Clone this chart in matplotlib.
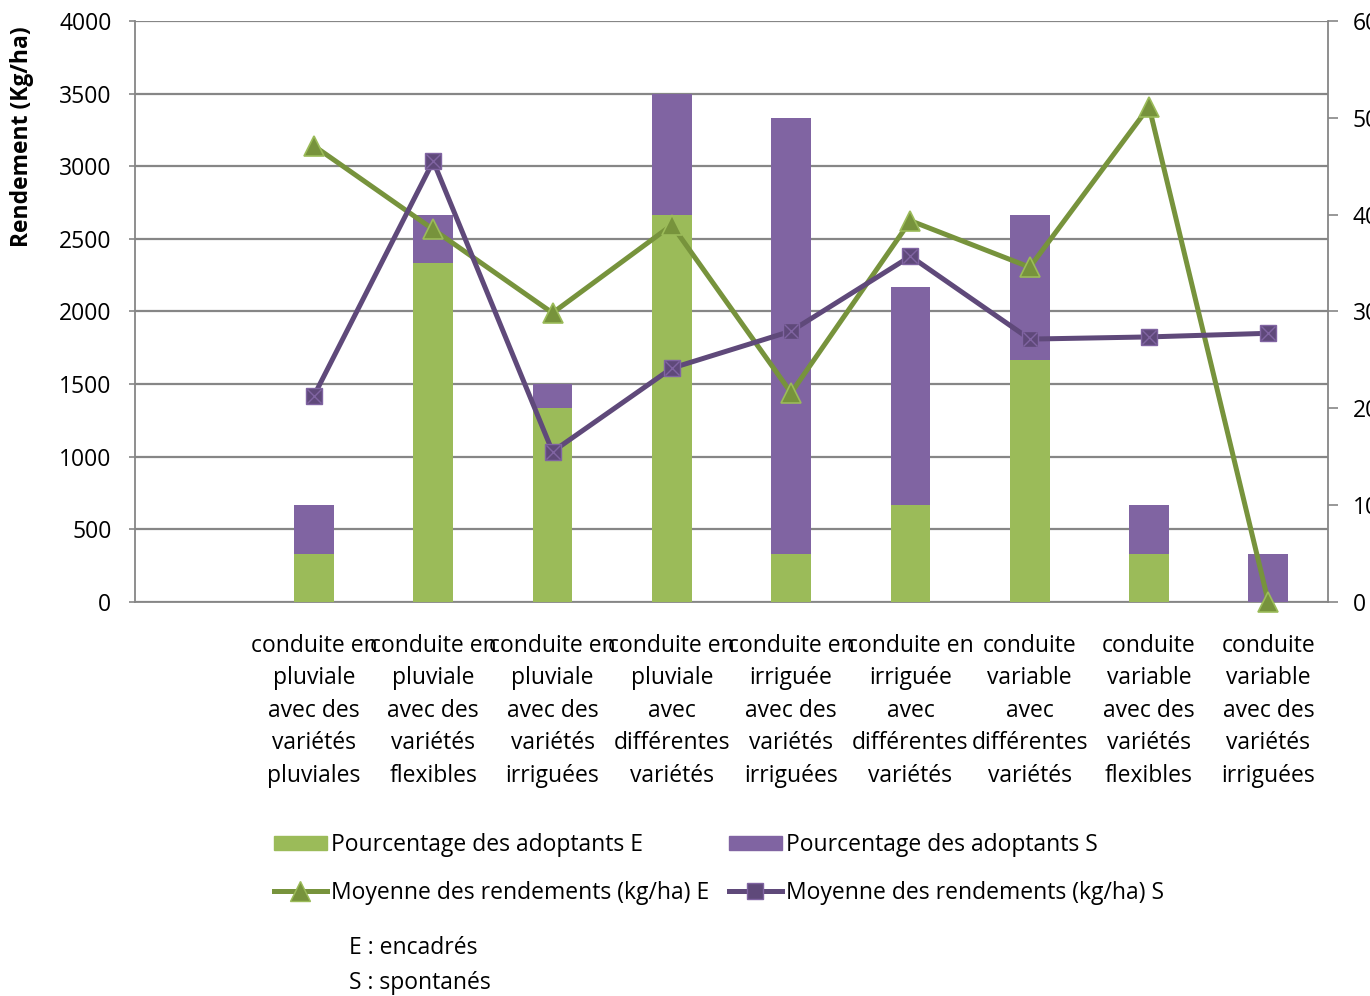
import numpy as np
import matplotlib
matplotlib.use("Agg")
import matplotlib.pyplot as plt
from matplotlib.lines import Line2D
from matplotlib.patches import Patch

plt.rcParams['font.family'] = ['Open Sans', 'DejaVu Sans']

categories = ["",
              "conduite en\npluviale\navec des\nvariétés\npluviales",
              "conduite en\npluviale\navec des\nvariétés\nflexibles",
              "conduite en\npluviale\navec des\nvariétés\nirriguées",
              "conduite en\npluviale\navec\ndifférentes\nvariétés",
              "conduite en\nirriguée\navec des\nvariétés\nirriguées",
              "conduite en\nirriguée\navec\ndifférentes\nvariétés",
              "conduite\nvariable\navec\ndifférentes\nvariétés",
              "conduite\nvariable\navec des\nvariétés\nflexibles",
              "conduite\nvariable\navec des\nvariétés\nirriguées"]

# pourcentage des adoptants (axe de droite)
pct_E = [np.nan, 5, 35, 20, 40, 5, 10, 25, 5, 0]
pct_S = [np.nan, 5, 5, 2.5, 12.5, 45, 22.5, 15, 5, 5]

# moyenne des rendements kg/ha (axe de gauche)
rend_E = [np.nan, 3140, 2565, 1990, 2595, 1440, 2625, 2305, 3410, 0]
rend_S = [np.nan, 1420, 3035, 1035, 1610, 1865, 2380, 1810, 1825, 1850]

green_bar = '#9BBB59'
purple_bar = '#8064A2'
green_line = '#77933C'
purple_line = '#5F497A'
grey = '#868686'
fs = 16.5

x = np.arange(len(categories))

fig = plt.figure(figsize=(13.7, 9.96), dpi=100)
ax = fig.add_axes([135/1370, 1-602/996, 1193/1370, 581/996])
ax_bar = ax.twinx()
ax_line = ax.twinx()

# grille + axe gauche
ax.set_ylim(0, 4000)
ax.set_yticks(np.arange(0, 4001, 500))
ax.set_xlim(-0.5, len(categories)-0.5)
ax.grid(axis='y', color=grey, linewidth=1.6)
ax.set_xticks(x)
ax.set_xticklabels(categories, fontsize=fs, linespacing=1.47)
ax.tick_params(axis='x', length=0, pad=23)
ax.tick_params(axis='y', labelsize=fs, length=4, color=grey, pad=13, width=1.2)
for s in ['top', 'right']:
    ax.spines[s].set_visible(False)
for s in ['left', 'bottom']:
    ax.spines[s].set_color(grey)
    ax.spines[s].set_linewidth(1.3)

# barres empilées (axe de droite)
w = 1/3
ax_bar.bar(x, pct_E, w, color=green_bar)
ax_bar.bar(x, pct_S, w, bottom=pct_E, color=purple_bar)
ax_bar.set_ylim(0, 60)
ax_bar.set_yticks(np.arange(0, 61, 10))
ax_bar.tick_params(axis='y', labelsize=fs, length=7, color=grey, pad=11, width=1.2)
for s in ['top', 'left', 'bottom']:
    ax_bar.spines[s].set_visible(False)
ax_bar.spines['right'].set_color(grey)
ax_bar.spines['right'].set_linewidth(1.3)

# courbes
ax_line.set_ylim(0, 4000)
ax_line.set_yticks([])
for s in ax_line.spines.values():
    s.set_visible(False)
ax_line.plot(x, rend_E, color=green_line, linewidth=3.6, marker='^', markersize=14,
             markerfacecolor=green_line, markeredgecolor=green_bar, markeredgewidth=1.2,
             clip_on=False, zorder=3)
ax_line.plot(x, rend_S, color=purple_line, linewidth=3.6, marker='s', markersize=12,
             markerfacecolor=purple_line, markeredgecolor=purple_bar, markeredgewidth=1.0,
             clip_on=False, zorder=3)
ax_line.plot(x, rend_S, linestyle='none', marker='x', markersize=10,
             markeredgecolor=purple_bar, markeredgewidth=1.0, clip_on=False, zorder=4)

fig.text(22/1370, 1-137/996, "Rendement (Kg/ha)", rotation=90, ha='center', va='center',
         fontsize=fs, fontweight='bold')

handles = [Patch(color=green_bar),
           Line2D([], [], color=green_line, linewidth=3.6, marker='^', markersize=14,
                  markerfacecolor=green_line, markeredgecolor=green_bar),
           Patch(color=purple_bar),
           Line2D([], [], color=purple_line, linewidth=3.6, marker='s', markersize=11,
                  markerfacecolor=purple_line, markeredgecolor=purple_bar)]
labels = ["Pourcentage des adoptants E",
          "Moyenne des rendements (kg/ha) E",
          "Pourcentage des adoptants S",
          "Moyenne des rendements (kg/ha) S"]
fig.legend(handles, labels, ncol=2, loc='upper left', bbox_to_anchor=(274/1370, 1-833/996),
           frameon=False, fontsize=fs, handlelength=2.3, handleheight=0.6,
           handletextpad=0.2, columnspacing=0.85, labelspacing=1.05, borderpad=0,
           borderaxespad=0)

fig.text(349/1370, 1-948/996, "E : encadrés", fontsize=fs, va='center')
fig.text(349/1370, 1-983/996, "S : spontanés", fontsize=fs, va='center')

fig.savefig("out.png", dpi=100)
